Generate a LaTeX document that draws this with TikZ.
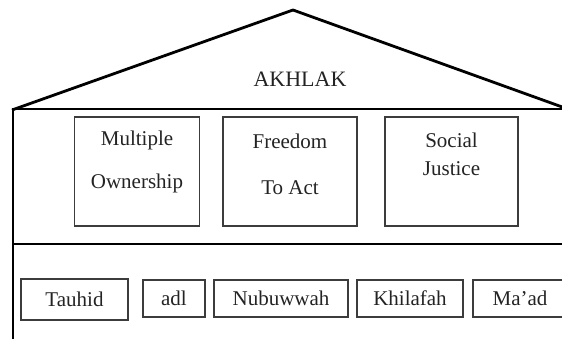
\documentclass[tikz,border=0pt]{standalone}
\usepackage{fontspec}
\setmainfont{Liberation Serif}
\definecolor{boxgray}{RGB}{60, 60, 60}
\definecolor{textgray}{RGB}{35, 35, 35}
\usepackage{tikz}

\begin{document}
\begin{tikzpicture}[x=1pt, y=-1pt,
    wall/.style={line width=2.8pt, line join=miter},
    cell/.style={draw=boxgray, line width=1.1pt, inner sep=0pt, minimum height=37},
    pillar/.style={draw=boxgray, line width=1.1pt, inner sep=0pt, minimum height=109},
    txt/.style={text=textgray, font=\fontsize{21}{25}\selectfont, inner sep=0pt}]
        \clip (0,0) rectangle (562,339);
        % roof and frame
        \coordinate (eaveL) at (12,110);
        \coordinate (eaveR) at (565,108);
        \coordinate (apex) at (293,10);
        \draw[wall] (eaveL) -- (apex) -- (eaveR);
        \draw[wall] (eaveR |- 0,109) -- (13,109) -- (13,345);
        \draw[wall] (13,244) -- (565,244);
        \node[txt, font=\fontsize{22}{26}\selectfont] (akhlak) at (300,79) {AKHLAK};

        % pillars
        \node[pillar, minimum width=124.5] (mo) at (137,171.5) {};
        \node[pillar, minimum width=134] (fa) at (290,171.5) {};
        \node[pillar, minimum width=133] (sj) at (451.5,171.5) {};
        \node[txt, align=center] (motxt) at (137,162) {Multiple\\[18pt]Ownership};
        \node[txt, align=center] (fatxt) at (290,164) {Freedom\\[21pt]To Act};
        \node[txt, align=center] (sjtxt) at (451.5,154) {Social\\[3pt]Justice};

        % foundation
        \node[cell, txt, minimum width=107, minimum height=41] (tauhid) at (74.5,299.5) {Tauhid};
        \foreach \n/\cx/\w/\t in {adl/174/62/adl, nubuwwah/281/134/Nubuwwah,
                                 khilafah/410/106/Khilafah, maad/520/94/Ma’ad} {
          \node[cell, txt, minimum width=\w] (\n) at (\cx,298.5) {\t};
        }
\end{tikzpicture}
\end{document}
